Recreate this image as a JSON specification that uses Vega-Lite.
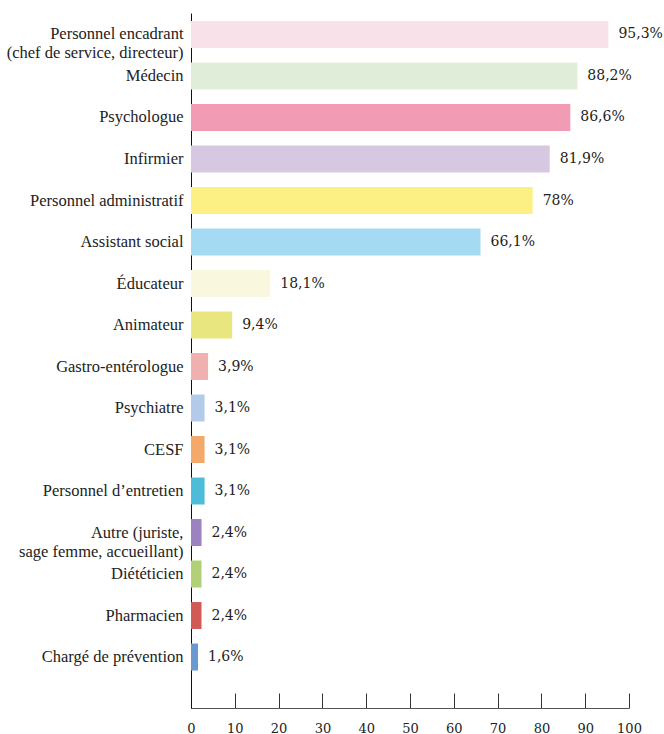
{
  "$schema": "https://vega.github.io/schema/vega-lite/v6.json",
  "width": 438,
  "height": 695,
  "autosize": {"type": "none"},
  "padding": {"left": 191, "top": 13, "right": 35, "bottom": 26},
  "background": "white",
  "config": {"view": {"stroke": null}},
  "data": {
    "values": [
      {"cat": "Personnel encadrant|(chef de service, directeur)", "v": 95.3, "label": "95,3%"},
      {"cat": "Médecin", "v": 88.2, "label": "88,2%"},
      {"cat": "Psychologue", "v": 86.6, "label": "86,6%"},
      {"cat": "Infirmier", "v": 81.9, "label": "81,9%"},
      {"cat": "Personnel administratif", "v": 78, "label": "78%"},
      {"cat": "Assistant social", "v": 66.1, "label": "66,1%"},
      {"cat": "Éducateur", "v": 18.1, "label": "18,1%"},
      {"cat": "Animateur", "v": 9.4, "label": "9,4%"},
      {"cat": "Gastro-entérologue", "v": 3.9, "label": "3,9%"},
      {"cat": "Psychiatre", "v": 3.1, "label": "3,1%"},
      {"cat": "CESF", "v": 3.1, "label": "3,1%"},
      {"cat": "Personnel d’entretien", "v": 3.1, "label": "3,1%"},
      {"cat": "Autre (juriste,\u00a0|sage femme, accueillant)", "v": 2.4, "label": "2,4%"},
      {"cat": "Diététicien", "v": 2.4, "label": "2,4%"},
      {"cat": "Pharmacien", "v": 2.4, "label": "2,4%"},
      {"cat": "Chargé de prévention", "v": 1.6, "label": "1,6%"}
    ]
  },
  "encoding": {
    "y": {
      "field": "cat",
      "type": "nominal",
      "sort": null,
      "scale": {"paddingInner": 0.35, "paddingOuter": 0.548, "align": 0.176},
      "axis": {
        "title": null,
        "ticks": false,
        "tickSize": 0,
        "domainColor": "#111",
        "domainWidth": 1,
        "labelFont": "'Liberation Serif', 'Times New Roman', serif",
        "labelFontSize": 16.5,
        "labelColor": "#222",
        "labelPadding": 8,
        "labelLimit": 0,
        "labelLineHeight": 19,
        "labelExpr": "split(datum.label, '|')"
      }
    },
    "x": {
      "field": "v",
      "type": "quantitative",
      "scale": {"domain": [0, 100], "nice": false},
      "axis": {
        "title": null,
        "grid": false,
        "values": [0, 10, 20, 30, 40, 50, 60, 70, 80, 90, 100],
        "tickSize": -15,
        "tickColor": "#333",
        "domainColor": "#555",
        "labelFont": "'DejaVu Serif', serif",
        "labelFontSize": 13,
        "labelColor": "#222",
        "labelPadding": 29,
        "labelFlush": false
      }
    }
  },
  "layer": [
    {
      "mark": {"type": "bar"},
      "encoding": {
        "color": {
          "field": "cat",
          "type": "nominal",
          "legend": null,
          "scale": {
            "domain": [
              "Personnel encadrant|(chef de service, directeur)", "Médecin", "Psychologue", "Infirmier",
              "Personnel administratif", "Assistant social", "Éducateur", "Animateur",
              "Gastro-entérologue", "Psychiatre", "CESF", "Personnel d’entretien",
              "Autre (juriste,\u00a0|sage femme, accueillant)", "Diététicien", "Pharmacien", "Chargé de prévention"
            ],
            "range": [
              "#F8E1E9", "#E0EDD9", "#F29BB5", "#D7C8E2",
              "#FCEF83", "#A4DBF3", "#FAF7DF", "#E8E67E",
              "#F0B0B0", "#B3CBE8", "#F4A86A", "#4DBCD8",
              "#9C82BE", "#B1D078", "#D25A55", "#6A9BD0"
            ]
          }
        }
      }
    },
    {
      "mark": {"type": "text", "align": "left", "baseline": "middle", "dx": 10, "font": "'DejaVu Serif', serif", "fontSize": 14, "color": "#222"},
      "encoding": {"text": {"field": "label"}}
    }
  ]
}
